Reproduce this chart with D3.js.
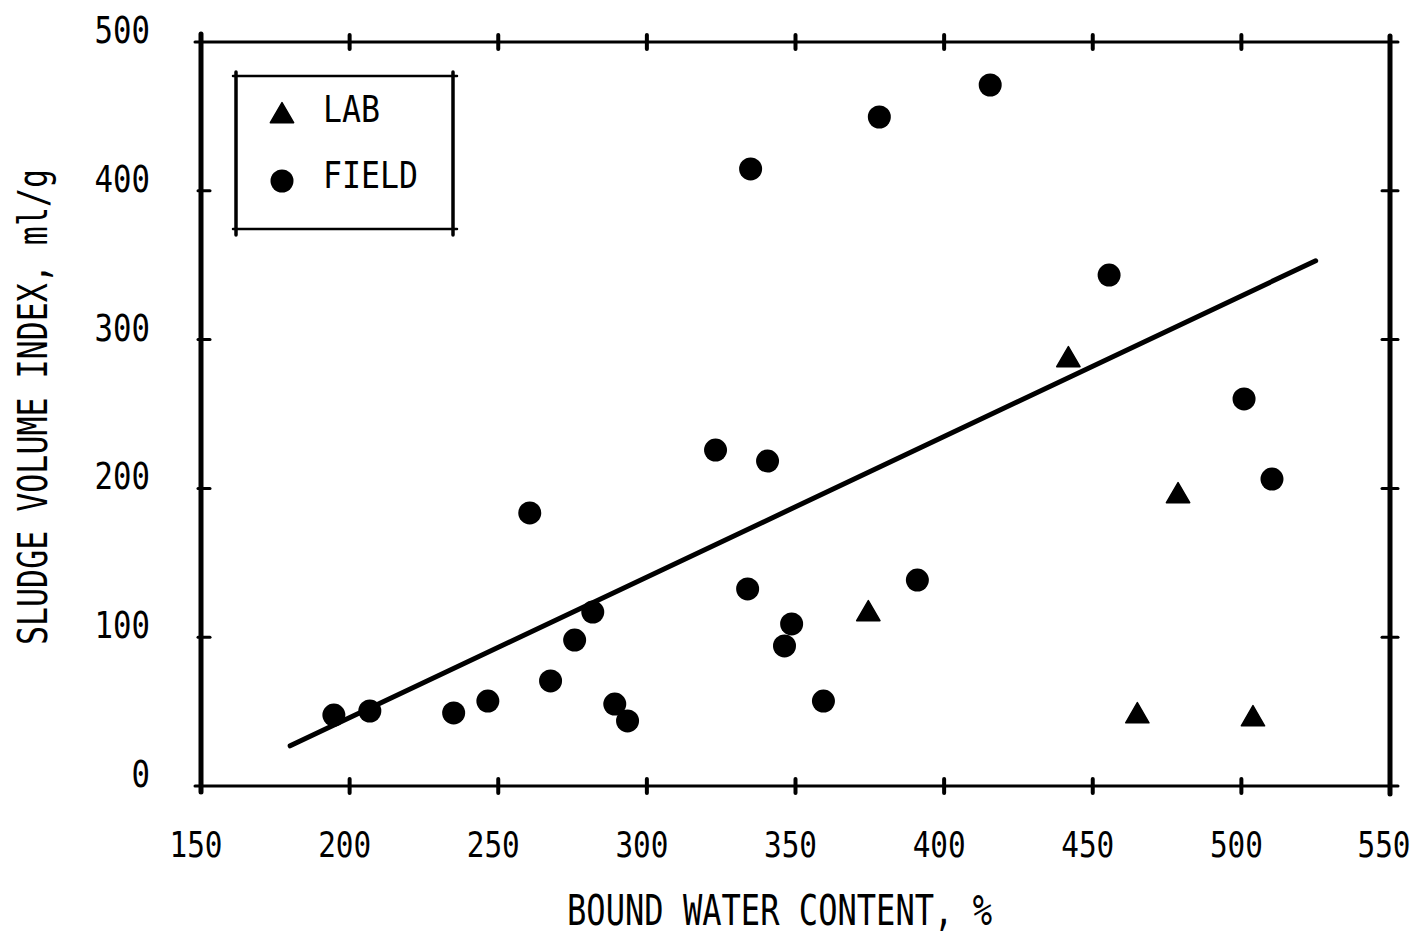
<!DOCTYPE html>
<html>
<head>
<meta charset="utf-8">
<script src="https://cdn.jsdelivr.net/npm/d3@7"></script>
<style>
html,body{margin:0;padding:0;background:#fff;}
svg{display:block;}
text{font-family:"DejaVu Sans Mono",monospace;fill:#000;}
</style>
</head>
<body>
<svg id="chart" width="1422" height="934"></svg>
<script>
// ---- data ----
const xTicks = [150, 200, 250, 300, 350, 400, 450, 500, 550];
const yTicks = [0, 100, 200, 300, 400, 500];
const fieldX = [194.7, 206.8, 235.0, 246.5, 260.6, 267.6, 275.7, 281.8, 289.2, 293.5, 323.1, 333.9, 334.9, 340.6, 346.3, 348.7, 359.4, 378.2, 391.0, 415.5, 455.5, 500.9, 510.3];
const fieldY = [47.7, 50.4, 49.1, 57.1, 183.5, 70.6, 98.1, 116.9, 55.1, 43.7, 225.8, 132.4, 414.7, 218.4, 94.1, 108.9, 57.1, 449.6, 138.4, 471.1, 343.4, 260.1, 206.3];
const labX = [374.5, 441.8, 478.7, 465.0, 503.9];
const labY = [115.6, 286.3, 194.9, 47.0, 45.0];
const fitX = [180, 525];
const fitY = [27, 353];
const xTitle = "BOUND WATER CONTENT, %";
const yTitle = "SLUDGE VOLUME INDEX, ml/g";
const legendLabels = ["LAB", "FIELD"];

// ---- layout ----
const svg = d3.select("#chart");
const x = d3.scaleLinear().domain([150, 550]).range([201, 1390]);
const y = d3.scaleLinear().domain([0, 500]).range([786, 42]);
const x0 = x(150), x1 = x(550), y0 = y(0), y1 = y(500);

// frame
const frame = svg.append("g").attr("stroke", "#000").attr("stroke-linecap", "round");
frame.append("line").attr("x1", x0 - 6).attr("x2", x1 + 8).attr("y1", y1).attr("y2", y1).attr("stroke-width", 3);
frame.append("line").attr("x1", x0 - 6).attr("x2", x1 + 8).attr("y1", y0).attr("y2", y0).attr("stroke-width", 3);
frame.append("line").attr("x1", x0).attr("x2", x0).attr("y1", y1 - 8).attr("y2", y0 + 6).attr("stroke-width", 5);
frame.append("line").attr("x1", x1).attr("x2", x1).attr("y1", y1 - 6).attr("y2", y0 + 8).attr("stroke-width", 5);

// x ticks (top & bottom)
const innerX = xTicks.filter(v => v > 150 && v < 550);
frame.selectAll(".tb").data(innerX).join("line")
  .attr("x1", d => x(d)).attr("x2", d => x(d))
  .attr("y1", y1 - 7).attr("y2", y1 + 7).attr("stroke-width", 4);
frame.selectAll(".bb").data(innerX).join("line")
  .attr("x1", d => x(d)).attr("x2", d => x(d))
  .attr("y1", y0 - 7).attr("y2", y0 + 7).attr("stroke-width", 4);
// y ticks (left & right)
const innerY = yTicks.filter(v => v > 0 && v < 500);
frame.selectAll(".lt").data(innerY).join("line")
  .attr("x1", x0 - 3).attr("x2", x0 + 9)
  .attr("y1", d => y(d)).attr("y2", d => y(d)).attr("stroke-width", 3);
frame.selectAll(".rt").data(innerY).join("line")
  .attr("x1", x1 - 8).attr("x2", x1 + 8)
  .attr("y1", d => y(d)).attr("y2", d => y(d)).attr("stroke-width", 3);

// tick labels
svg.append("g").selectAll("text").data(xTicks).join("text")
  .attr("x", d => Math.min(x(d) - 5, 1384)).attr("y", 857)
  .attr("text-anchor", "middle").attr("font-size", 36)
  .attr("textLength", 53).attr("lengthAdjust", "spacingAndGlyphs")
  .text(d => d);
svg.append("g").selectAll("text").data(yTicks).join("text")
  .attr("x", 150).attr("y", d => y(d) + 1)
  .attr("text-anchor", "end").attr("font-size", 37)
  .attr("textLength", d => String(d).length * 18.5).attr("lengthAdjust", "spacingAndGlyphs")
  .text(d => d);

// axis titles
svg.append("text").attr("x", 567).attr("y", 925)
  .attr("font-size", 43).attr("textLength", 425).attr("lengthAdjust", "spacingAndGlyphs")
  .text(xTitle);
svg.append("text")
  .attr("transform", "translate(47,645) rotate(-90)")
  .attr("x", 0).attr("y", 0)
  .attr("font-size", 41).attr("textLength", 476).attr("lengthAdjust", "spacingAndGlyphs")
  .text(yTitle);

// regression line
svg.append("line")
  .attr("x1", x(fitX[0])).attr("y1", y(fitY[0]))
  .attr("x2", x(fitX[1])).attr("y2", y(fitY[1]))
  .attr("stroke", "#000").attr("stroke-width", 5).attr("stroke-linecap", "round");

// points
const field = fieldX.map((v, i) => [v, fieldY[i]]);
const lab = labX.map((v, i) => [v, labY[i]]);
svg.append("g").selectAll("circle").data(field).join("circle")
  .attr("cx", d => x(d[0])).attr("cy", d => y(d[1])).attr("r", 11.5).attr("fill", "#000");
const tri = d3.symbol().type(d3.symbolTriangle).size(235);
svg.append("g").selectAll("path").data(lab).join("path")
  .attr("transform", d => `translate(${x(d[0])},${y(d[1])})`)
  .attr("d", tri).attr("fill", "#000").attr("stroke", "#000").attr("stroke-width", 1.5).attr("stroke-linejoin", "round");

// legend
const lg = svg.append("g").attr("stroke", "#000").attr("stroke-linecap", "round");
const lx0 = 236, lx1 = 453, ly0 = 76, ly1 = 229;
lg.append("line").attr("x1", lx0 - 3).attr("x2", lx1 + 4).attr("y1", ly0).attr("y2", ly0).attr("stroke-width", 2.5);
lg.append("line").attr("x1", lx0 - 3).attr("x2", lx1 + 4).attr("y1", ly1).attr("y2", ly1).attr("stroke-width", 2.5);
lg.append("line").attr("x1", lx0).attr("x2", lx0).attr("y1", ly0 - 4).attr("y2", ly1 + 6).attr("stroke-width", 3.5);
lg.append("line").attr("x1", lx1).attr("x2", lx1).attr("y1", ly0 - 4).attr("y2", ly1 + 6).attr("stroke-width", 3.5);
svg.append("path").attr("transform", "translate(282,116)").attr("d", tri)
  .attr("fill", "#000").attr("stroke", "#000").attr("stroke-width", 1.5).attr("stroke-linejoin", "round");
svg.append("circle").attr("cx", 282).attr("cy", 181).attr("r", 11.5).attr("fill", "#000");
svg.selectAll(".lgt").data(legendLabels).join("text")
  .attr("x", 323).attr("y", (d, i) => 122 + i * 66)
  .attr("font-size", 37)
  .attr("textLength", d => d.length * 19).attr("lengthAdjust", "spacingAndGlyphs")
  .text(d => d);
</script>
</body>
</html>
